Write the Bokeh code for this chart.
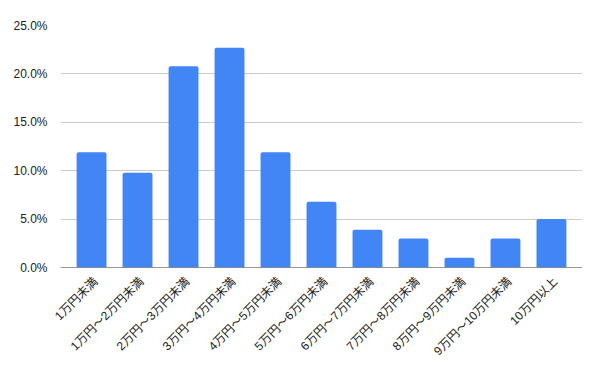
import math
from bokeh.plotting import figure
from bokeh.models import FactorRange, FixedTicker, NumeralTickFormatter, ColumnDataSource, Span
from bokeh.core.properties import value
from bokeh.embed import file_html
from bokeh.resources import INLINE

categories = ["1万円未満", "1万円～2万円未満", "2万円～3万円未満", "3万円～4万円未満",
              "4万円～5万円未満", "5万円～6万円未満", "6万円～7万円未満", "7万円～8万円未満",
              "8万円～9万円未満", "9万円～10万円未満", "10万円以上"]
values = [0.119, 0.098, 0.208, 0.227, 0.119, 0.068, 0.039, 0.030, 0.010, 0.030, 0.050]
y_ticks = [0, 0.05, 0.10, 0.15, 0.20, 0.25]

FONT = "Liberation Sans, Noto Sans CJK JP"

p = figure(width=600, height=371,
           x_range=FactorRange(*categories, range_padding=0.175, range_padding_units="absolute"),
           y_range=(0, 0.25), output_backend="svg", toolbar_location=None,
           min_border_left=60, min_border_right=18, min_border_top=25, min_border_bottom=104)
p.outline_line_color = None

src = ColumnDataSource(dict(cat=categories, val=values, base=[0] * len(categories)))

p.vbar(x="cat", top="val", width=0.65, source=src, color="#4285F4", line_color=None,
       border_radius=(2, 2, 0, 0))

# rotated category labels, drawn as text below the axis
p.text(x="cat", y="base", text="cat", source=src, angle=math.pi / 4,
       text_align="right", text_baseline="middle", x_offset=4, y_offset=12,
       text_font=value(FONT), text_font_size="12px", text_color="#222222",
       level="overlay")

# x axis baseline
p.add_layout(Span(location=0, dimension="width", line_color="#333333", line_width=1,
                  level="overlay"))

p.yaxis.ticker = FixedTicker(ticks=y_ticks)
p.yaxis.formatter = NumeralTickFormatter(format="0.0%")
p.yaxis.axis_line_color = None
p.yaxis.major_tick_line_color = None
p.yaxis.minor_tick_line_color = None
p.yaxis.major_label_standoff = 7
p.yaxis.major_label_text_font = FONT
p.yaxis.major_label_text_font_size = "12px"
p.yaxis.major_label_text_color = "#222222"

p.xaxis.visible = False

p.xgrid.grid_line_color = None
p.ygrid.grid_line_color = "#cccccc"

open("out.html", "w").write(file_html(p, INLINE))
